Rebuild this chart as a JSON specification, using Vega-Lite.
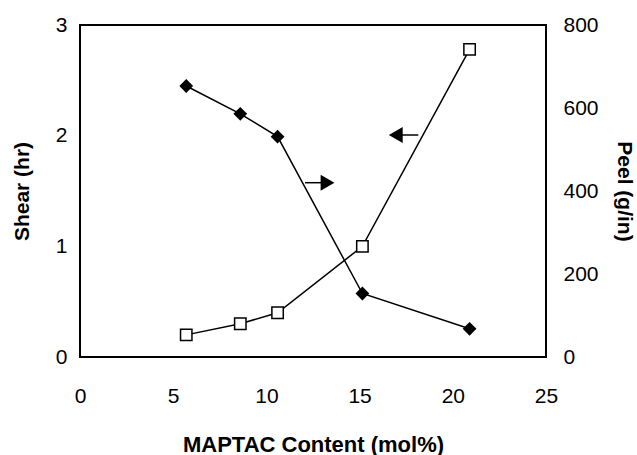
{
  "$schema": "https://vega.github.io/schema/vega-lite/v6.json",
  "width": 466,
  "height": 332,
  "autosize": {"type": "none"},
  "padding": {"left": 80, "top": 25, "right": 91, "bottom": 98},
  "background": "white",
  "config": {
    "view": {"stroke": "black", "strokeWidth": 2},
    "font": "Liberation Sans",
    "axis": {
      "grid": false,
      "ticks": false,
      "domain": false,
      "format": "d",
      "labelFlush": false,
      "labelFont": "Liberation Sans",
      "labelFontSize": 21,
      "labelColor": "black",
      "titleFont": "Liberation Sans",
      "titleFontSize": 21,
      "titleFontWeight": "bold",
      "titleColor": "black"
    }
  },
  "datasets": {
    "shear": [
      {"mol": 5.7, "shear": 0.2},
      {"mol": 8.6, "shear": 0.3},
      {"mol": 10.6, "shear": 0.4},
      {"mol": 15.15, "shear": 1.0},
      {"mol": 20.9, "shear": 2.78}
    ],
    "peel": [
      {"mol": 5.7, "peel": 653},
      {"mol": 8.6, "peel": 586},
      {"mol": 10.6, "peel": 531},
      {"mol": 15.15, "peel": 153},
      {"mol": 20.9, "peel": 68}
    ],
    "arrows": [
      {"tail": 12.07, "head": 13.28, "y": 1.575, "shape": "triangle-right"},
      {"tail": 18.15, "head": 16.94, "y": 2.006, "shape": "triangle-left"}
    ]
  },
  "layer": [
    {
      "layer": [
        {
          "data": {"name": "shear"},
          "mark": {"type": "line", "color": "black", "strokeWidth": 1.5},
          "encoding": {
            "x": {"field": "mol", "type": "quantitative", "scale": {"domain": [0, 25], "nice": false, "zero": false},
              "axis": {"title": "MAPTAC Content (mol%)", "titleFontSize": 22, "values": [0, 5, 10, 15, 20, 25], "labelFlush": false, "labelPadding": 28, "titlePadding": 28}},
            "y": {"field": "shear", "type": "quantitative", "scale": {"domain": [0, 3], "nice": false},
              "axis": {"title": "Shear (hr)", "orient": "left", "values": [0, 1, 2, 3], "labelPadding": 13, "titlePadding": 23}}
          }
        },
        {
          "data": {"name": "shear"},
          "mark": {"type": "point", "shape": "square", "filled": true, "fill": "white", "stroke": "black", "strokeWidth": 1.5, "size": 130, "opacity": 1},
          "encoding": {
            "x": {"field": "mol", "type": "quantitative"},
            "y": {"field": "shear", "type": "quantitative"}
          }
        },
        {
          "data": {"name": "arrows"},
          "mark": {"type": "rule", "color": "black", "strokeWidth": 1.5},
          "encoding": {
            "x": {"field": "tail", "type": "quantitative"},
            "x2": {"field": "head"},
            "y": {"field": "y", "type": "quantitative"}
          }
        },
        {
          "data": {"name": "arrows"},
          "mark": {"type": "point", "filled": true, "color": "black", "size": 256, "opacity": 1},
          "encoding": {
            "x": {"field": "head", "type": "quantitative"},
            "y": {"field": "y", "type": "quantitative"},
            "shape": {"field": "shape", "type": "nominal", "scale": null, "legend": null}
          }
        }
      ]
    },
    {
      "layer": [
        {
          "data": {"name": "peel"},
          "mark": {"type": "line", "color": "black", "strokeWidth": 1.5},
          "encoding": {
            "x": {"field": "mol", "type": "quantitative"},
            "y": {"field": "peel", "type": "quantitative", "scale": {"domain": [0, 800], "nice": false},
              "axis": {"title": "Peel (g/in)", "orient": "right", "values": [0, 200, 400, 600, 800], "labelPadding": 17, "titlePadding": 15}}
          }
        },
        {
          "data": {"name": "peel"},
          "mark": {"type": "point", "shape": "diamond", "filled": true, "color": "black", "size": 190, "opacity": 1},
          "encoding": {
            "x": {"field": "mol", "type": "quantitative"},
            "y": {"field": "peel", "type": "quantitative"}
          }
        }
      ]
    }
  ],
  "resolve": {"scale": {"y": "independent"}}
}
